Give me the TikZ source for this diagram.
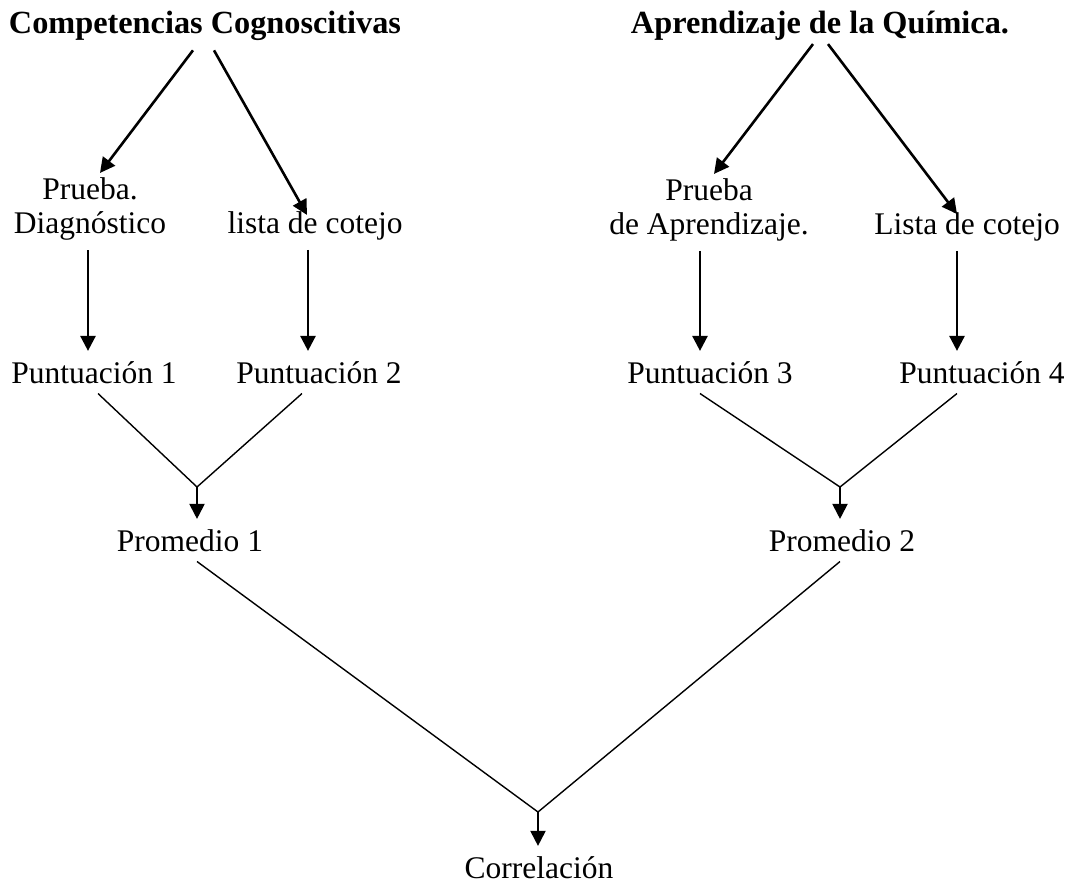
\documentclass[tikz,border=0pt]{standalone}
\usepackage{fontspec}
\setmainfont{Liberation Serif}
\usepackage{tikz}
\usetikzlibrary{arrows.meta}

\tikzset{
  label text/.style={font=\fontsize{31.5}{34}\selectfont, anchor=base, inner sep=10pt},
  title text/.style={label text, font=\fontsize{32.3}{34}\selectfont\bfseries},
  thick arrow/.style={line width=2.6pt, -{Triangle[length=15pt,width=15pt]}},
  thin line/.style={line width=1.4pt},
}

\begin{document}
\begin{tikzpicture}[x=1pt,y=-1pt]
        \useasboundingbox (0,0) rectangle (1072,886);

        % Titles
        \node[title text] (cc) at (205,33) {Competencias Cognoscitivas};
        \node[title text] (aq) at (820,33) {Aprendizaje de la Química.};

        % Instruments (base is the last line)
        \node[label text, align=center] (pd) at (90,233) {Prueba.\\Diagnóstico};
        \node[label text] (lc) at (315,233) {lista de cotejo};
        \node[label text, align=center] (pa) at (709,234) {Prueba\\de Aprendizaje.};
        \node[label text] (ll) at (967,234) {Lista de cotejo};

        % Scores
        \node[label text] (p1) at (94,383) {Puntuación 1};
        \node[label text] (p2) at (319,383) {Puntuación 2};
        \node[label text] (p3) at (710,383) {Puntuación 3};
        \node[label text] (p4) at (982,383) {Puntuación 4};

        % Averages and result
        \node[label text] (m1) at (190,551) {Promedio 1};
        \node[label text] (m2) at (842,551) {Promedio 2};
        \node[label text] (co) at (539,878) {Correlación};

        % Joining points
        \coordinate (j1) at (197,487);
        \coordinate (j2) at (840,487);
        \coordinate (j3) at (538,812);

        % Arrows from the titles
        \draw[thick arrow] ([xshift=-12pt]cc.south) -- ([xshift=10pt,yshift=-6pt]pd.north);
        \draw[thick arrow] ([xshift=9pt]cc.south) -- ([xshift=-8pt,yshift=-14pt]lc.north);
        \draw[thick arrow] ([xshift=-7pt,yshift=6pt]aq.south) -- ([xshift=5pt,yshift=-6pt]pa.north);
        \draw[thick arrow] ([xshift=8pt,yshift=6pt]aq.south) -- ([xshift=-10pt,yshift=-12pt]ll.north);

        % Arrows down to the scores
        \draw[thick arrow] ([xshift=-2pt]pd.south) -- ([xshift=-2pt]pd.south |- p1.north);
        \draw[thick arrow] ([xshift=-7pt]lc.south) -- ([xshift=-7pt]lc.south |- p2.north);
        \draw[thick arrow] ([xshift=-9pt]pa.south) -- ([xshift=-9pt]pa.south |- p3.north);
        \draw[thick arrow] ([xshift=-10pt]ll.south) -- ([xshift=-10pt]ll.south |- p4.north);

        % Scores joined into the averages
        \draw[thin line] ([xshift=4pt]p1.south) -- (j1) -- ([xshift=-17pt]p2.south);
        \draw[thin line] ([xshift=-10pt]p3.south) -- (j2) -- ([xshift=-25pt]p4.south);
        \draw[thick arrow, line width=2pt] (j1) -- (j1 |- m1.north);
        \draw[thick arrow, line width=2pt] (j2) -- (j2 |- m2.north);

        % Averages joined into the correlation
        \draw[thin line] ([xshift=7pt]m1.south) -- (j3) -- ([xshift=-2pt]m2.south);
        \draw[thick arrow, line width=2pt] (j3) -- (j3 |- co.north);
    \end{tikzpicture}
\end{document}
